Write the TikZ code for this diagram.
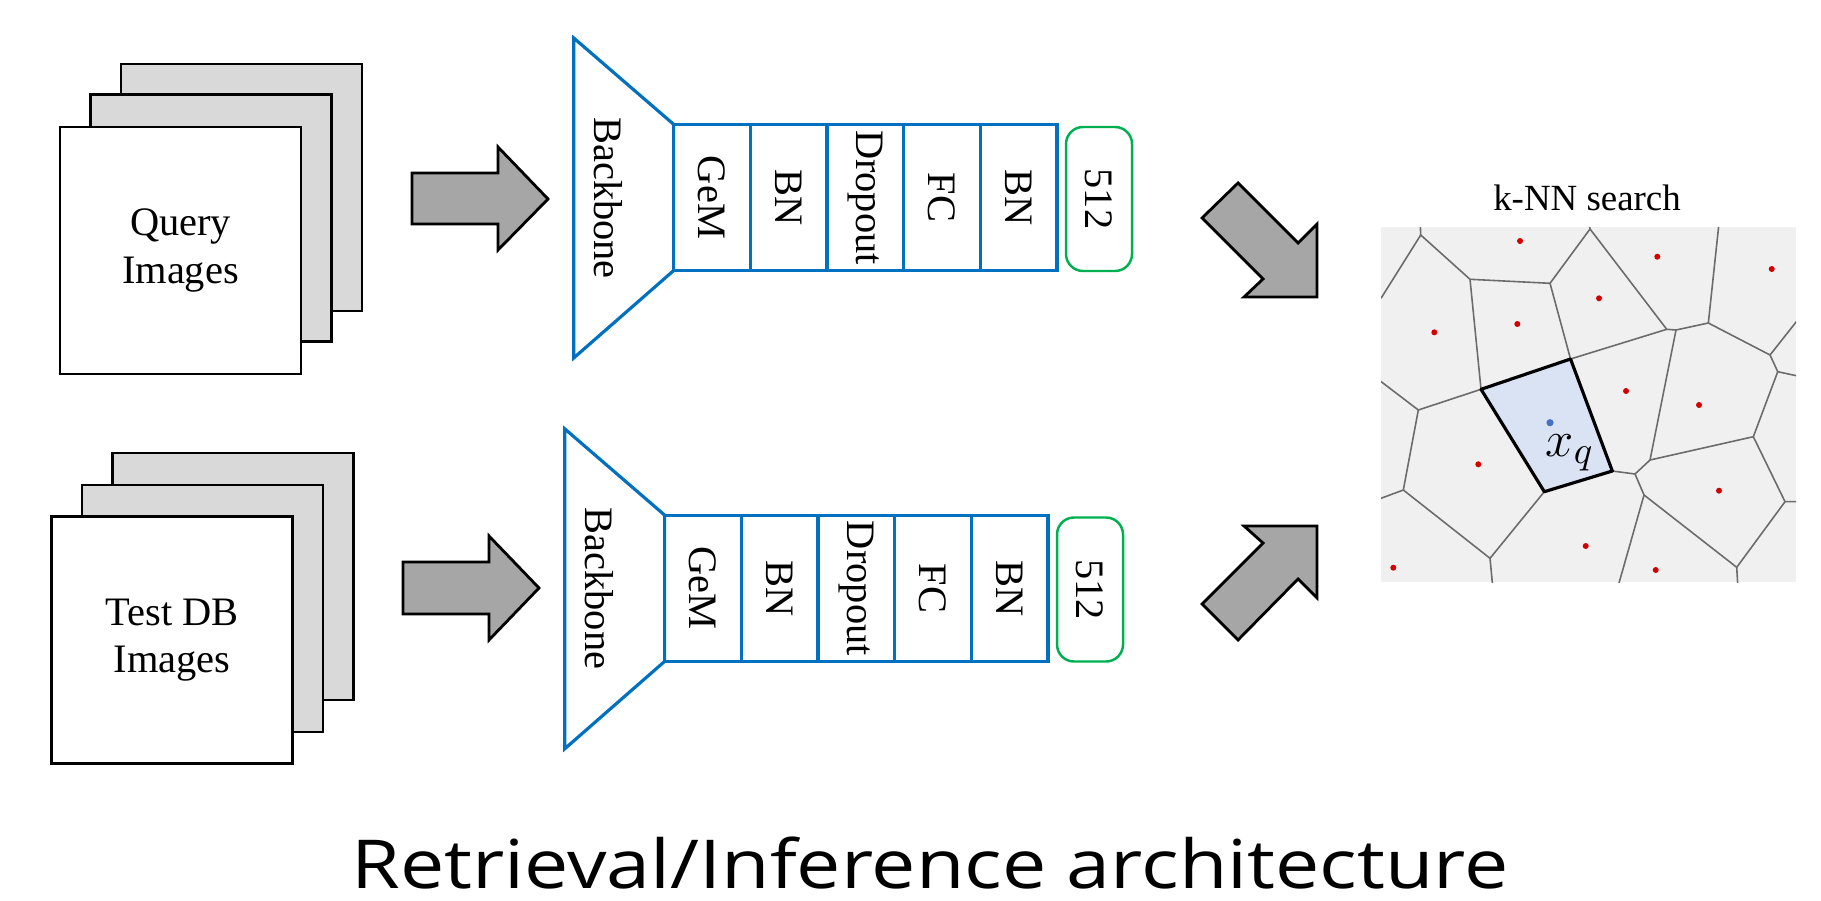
\documentclass[tikz,border=0pt]{standalone}
\usepackage{fontspec}
\setmainfont{Liberation Serif}
\newfontfamily\captionfont[FakeStretch=1.17]{Open Sans}

\definecolor{netblue}{HTML}{0070C0}
\definecolor{outgreen}{HTML}{00B050}
\definecolor{arrowgray}{HTML}{A6A6A6}
\definecolor{sheetgray}{HTML}{D9D9D9}
\definecolor{planegray}{HTML}{F0F0F0}
\definecolor{cellblue}{HTML}{DAE3F3}
\definecolor{seedred}{HTML}{D40000}
\definecolor{querydot}{HTML}{4472C4}

\tikzset{
    sheet/.style={draw=black, line width=0.6pt, fill=sheetgray, inner sep=0pt,
        minimum width=24.1mm, minimum height=24.7mm, align=center,
        font=\fontsize{11.5}{13.5}\selectfont},
    blockarrow/.style={draw=black, line width=0.8pt, fill=arrowgray, line join=miter},
    netline/.style={draw=netblue, line width=0.9pt},
    layer/.style={draw=netblue, line width=0.9pt, inner sep=0pt, rotate=-90,
        minimum width=14.6mm, minimum height=7.67mm,
        font=\fontsize{11.5}{13.5}\selectfont},
    outbox/.style={draw=outgreen, line width=0.7pt, rounded corners=1.7mm,
        inner sep=0pt, rotate=-90, minimum width=14.4mm, minimum height=6.6mm,
        font=\fontsize{11.5}{13.5}\selectfont},
    rotlabel/.style={inner sep=0pt, rotate=-90, font=\fontsize{11.5}{13.5}\selectfont},
    vedge/.style={draw=black!58, line width=0.45pt},
    seed/.style={fill=seedred},
}

\begin{document}
\begin{tikzpicture}[x=0.1mm, y=-0.1mm]
    \useasboundingbox (0,0) rectangle (1821,900);

    % query images
    \node[sheet] (qback) at (241.5,187.5) {};
    \node[sheet] (qmid) at (211,218) {};
    \node[sheet, fill=white] (query) at (180.5,250.5) {Query\\Images};
    % test db images
    \node[sheet] (dback) at (233,576.5) {};
    \node[sheet] (dmid) at (202.5,608.5) {};
    \node[sheet, fill=white] (testdb) at (172,640) {Test DB\\Images};

    % arrows into the networks
    \draw[blockarrow] (412,173) -- (498,173) -- (498,147) -- (548,199) -- (498,250) -- (498,224) -- (412,224) -- cycle;
    \draw[blockarrow] (403,562) -- (489,562) -- (489,536) -- (539,588) -- (489,640) -- (489,614) -- (403,614) -- cycle;

    % query network
    \draw[netline] (573.7,38) -- (673.6,124.3) -- (673.6,270.6) -- (573.7,358) -- cycle;
    \node[rotlabel] (bb1) at (608,198) {Backbone};
    \node[layer] (gem1) at (711.9,197.5) {GeM};
    \node[layer] (bna1) at (788.6,197.5) {BN};
    \node[layer] (drop1) at (865.2,197.5) {Dropout};
    \node[layer] (fc1) at (941.9,197.5) {FC};
    \node[layer] (bnb1) at (1018.6,197.5) {BN};
    \node[outbox] (out1) at (1099,199) {512};

    % test db network
    \draw[netline] (564.7,428.8) -- (664.6,515.1) -- (664.6,661.4) -- (564.7,748.8) -- cycle;
    \node[rotlabel] (bb2) at (599,588.5) {Backbone};
    \node[layer] (gem2) at (702.9,588.3) {GeM};
    \node[layer] (bna2) at (779.6,588.3) {BN};
    \node[layer] (drop2) at (856.2,588.3) {Dropout};
    \node[layer] (fc2) at (932.9,588.3) {FC};
    \node[layer] (bnb2) at (1009.6,588.3) {BN};
    \node[outbox] (out2) at (1090,589.5) {512};

    % arrows into the search
    \draw[blockarrow] (1238,183) -- (1202,218) -- (1263,279) -- (1244,297) -- (1317,297) -- (1317,224) -- (1298,243) -- cycle;
    \draw[blockarrow] (1244,526) -- (1263,543) -- (1202,604) -- (1238,640) -- (1298,579) -- (1317,598) -- (1317,526) -- cycle;

    % k-NN search plane
    \node[anchor=base, font=\fontsize{10.5}{12}\selectfont] (knn) at (1587,210) {k-NN search};
    \fill[planegray] (1381,227) rectangle (1796,582);
    \coordinate (A) at (1420.7,235);
    \coordinate (B) at (1470,279.3);
    \coordinate (C) at (1550,283.3);
    \coordinate (D) at (1590,229);
    \coordinate (E1) at (1666.7,329.3);
    \coordinate (E2) at (1676,330);
    \coordinate (G) at (1708.3,323);
    \coordinate (H) at (1770,355);
    \coordinate (I) at (1777.7,371.7);
    \coordinate (Q1) at (1481,389.3);
    \coordinate (Q2) at (1570.5,359);
    \coordinate (Q3) at (1612.3,471);
    \coordinate (Q4) at (1544.3,491.7);
    \coordinate (L1) at (1418.3,410);
    \coordinate (L2) at (1403.3,490);
    \coordinate (L3) at (1490,558.3);
    \coordinate (V1) at (1650,460);
    \coordinate (V2) at (1635,474);
    \coordinate (V3) at (1644,495);
    \coordinate (V4) at (1753.3,436.7);
    \coordinate (R1) at (1785,501.7);
    \coordinate (R2) at (1736.7,567.3);
    \begin{scope}
        \clip (1381,227) rectangle (1796,582);
        % query cell
        \fill[cellblue] (Q1) -- (Q2) -- (Q3) -- (Q4) -- cycle;
        % cell borders
        \draw[vedge] (A) -- (1420,220);
        \draw[vedge] (A) -- (1381,298.3);
        \draw[vedge] (A) -- (B) -- (C) -- (D) -- (1588,220);
        \draw[vedge] (D) -- (E1) -- (E2) -- (G) -- (1719.3,220);
        \draw[vedge] (C) -- (Q2) -- (E1);
        \draw[vedge] (B) -- (Q1);
        \draw[vedge] (G) -- (H) -- (1800,317);
        \draw[vedge] (H) -- (I) -- (1800,376.5);
        \draw[vedge] (E2) -- (V1) -- (V4) -- (I);
        \draw[vedge] (V4) -- (R1) -- (1800,501.7);
        \draw[vedge] (R1) -- (R2) -- (1738,590);
        \draw[vedge] (R2) -- (V3);
        \draw[vedge] (V1) -- (V2) -- (Q3);
        \draw[vedge] (V2) -- (V3) -- (1617,590);
        \draw[vedge] (Q4) -- (L3) -- (1493,590);
        \draw[vedge] (L3) -- (L2) -- (1375,500.5);
        \draw[vedge] (L2) -- (L1) -- (1375,377);
        \draw[vedge] (L1) -- (Q1);
        \draw[black, line width=0.9pt, line join=round] (Q1) -- (Q2) -- (Q3) -- (Q4) -- cycle;
    \end{scope}
    % seeds
    \fill[seed] (1520,241) circle (0.3mm);
    \fill[seed] (1657.3,256.7) circle (0.3mm);
    \fill[seed] (1771.7,269) circle (0.3mm);
    \fill[seed] (1599,298.3) circle (0.3mm);
    \fill[seed] (1517.3,324) circle (0.3mm);
    \fill[seed] (1434.3,332.3) circle (0.3mm);
    \fill[seed] (1626,391) circle (0.3mm);
    \fill[seed] (1699,405) circle (0.3mm);
    \fill[seed] (1478.3,464.3) circle (0.3mm);
    \fill[seed] (1719,490.7) circle (0.3mm);
    \fill[seed] (1585.7,546) circle (0.3mm);
    \fill[seed] (1393.3,567.7) circle (0.3mm);
    \fill[seed] (1655.7,570) circle (0.3mm);
    % query point
    \fill[querydot] (1550,422.7) circle (0.36mm);
    \node[anchor=base west, inner sep=0pt, font=\fontsize{15.5}{18}\selectfont] (xq) at (1545,456) {$x_q$};

    % caption
    \node[anchor=base, font=\captionfont\fontsize{19.2}{23}\selectfont] (title) at (930,888) {Retrieval/Inference architecture};
\end{tikzpicture}
\end{document}
